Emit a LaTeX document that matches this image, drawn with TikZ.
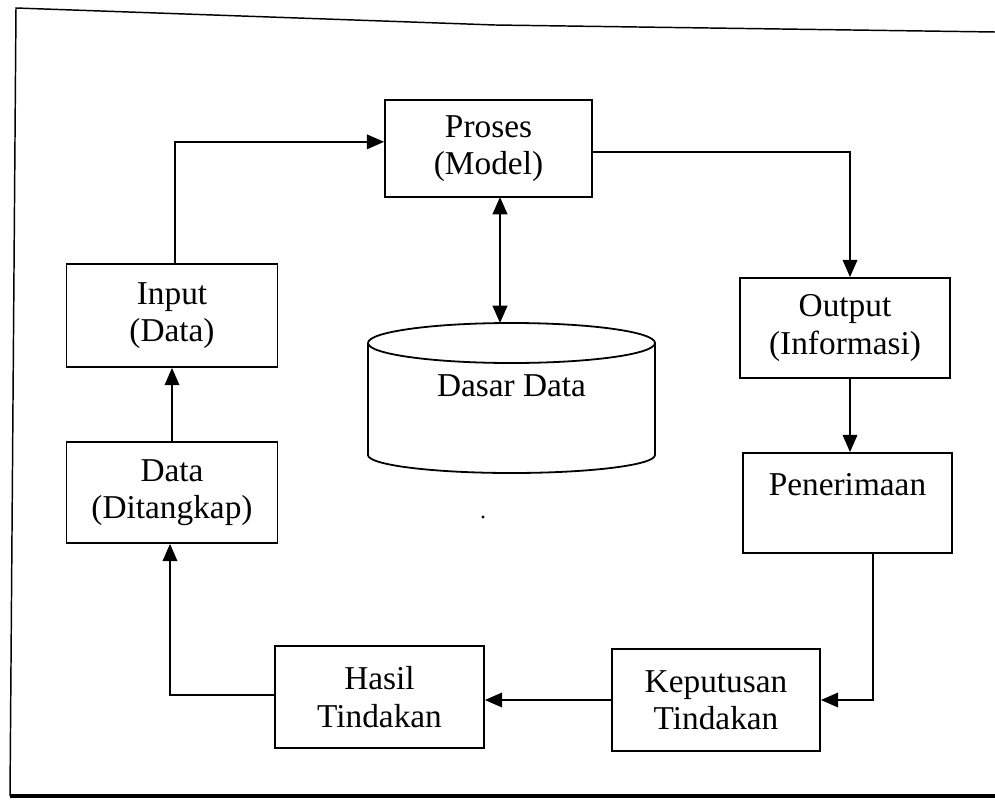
\documentclass[tikz,border=0pt]{standalone}
\usepackage{fontspec}
\setmainfont{Liberation Serif}
\usetikzlibrary{arrows.meta}
\begin{document}
\begin{tikzpicture}[x=0.75pt,y=-0.75pt,
  line width=1.35pt,
  box/.style={draw, rectangle, align=center, inner sep=0pt,
    font=\fontsize{25}{28}\selectfont},
  arr/.style={-{Triangle[length=13pt,width=11pt]}},
  dbl/.style={{Triangle[length=13pt,width=11pt]}-{Triangle[length=13pt,width=11pt]}}]
\useasboundingbox (0,0) rectangle (995,799);
% frame
\draw[line width=1.1pt] (995,32) -- (495,25) -- (16,8) -- (10,796);
\draw[line width=2.4pt] (10,796) -- (995,796);
% boxes
\node[box, minimum width=207*0.75pt, minimum height=97*0.75pt] (proses) at (488.5,148.5) {Proses\\(Model)};
\node[box, minimum width=211*0.75pt, minimum height=103*0.75pt] (input) at (172,315.5) {Input\\(Data)};
\node[box, minimum width=211*0.75pt, minimum height=101*0.75pt] (data) at (172,492.5) {Data\\(Ditangkap)};
\node[box, minimum width=210*0.75pt, minimum height=100*0.75pt] (output) at (845,328) {Output\\(Informasi)};
\node[box, minimum width=209*0.75pt, minimum height=100*0.75pt] (terima) at (847.5,503) {Penerimaan\\\mbox{}};
\node[box, minimum width=208*0.75pt, minimum height=102*0.75pt] (keputusan) at (716,700) {Keputusan\\Tindakan};
\node[box, minimum width=209*0.75pt, minimum height=102*0.75pt] (hasil) at (379.5,697) {Hasil\\Tindakan};
% database cylinder
\draw (511.5,343) ellipse [x radius=143.5, y radius=20];
\draw (368,343) -- (368,455) arc[start angle=180, end angle=0, x radius=143.5, y radius=18] -- (655,343);
\node[font=\fontsize{25}{28}\selectfont] (db) at (511.5,386) {Dasar Data};
\coordinate (dbtop) at (500,323);
\coordinate (pbot) at (500,197);
% small dot
\fill (483,517) circle [radius=1.6];
% connectors
\draw[arr] ([xshift=2pt]input.north) |- ([yshift=5pt]proses.west);
\draw[arr] ([yshift=-2.6pt]proses.east) -| ([xshift=3.75pt]output.north);
\draw[arr] ([xshift=3.75pt]output.south) -- ([xshift=3.75pt]output.south |- terima.north);
\draw[arr] ([xshift=19pt]terima.south) |- (keputusan.east);
\draw[arr] (keputusan.west) -- (keputusan.west -| hasil.east);
\draw[arr] ([yshift=1.5pt]hasil.west) -| ([xshift=-1.5pt]data.south);
\draw[arr] (data.north) -- (input.south);
\draw[dbl] (pbot) -- (dbtop);
\end{tikzpicture}
\end{document}
